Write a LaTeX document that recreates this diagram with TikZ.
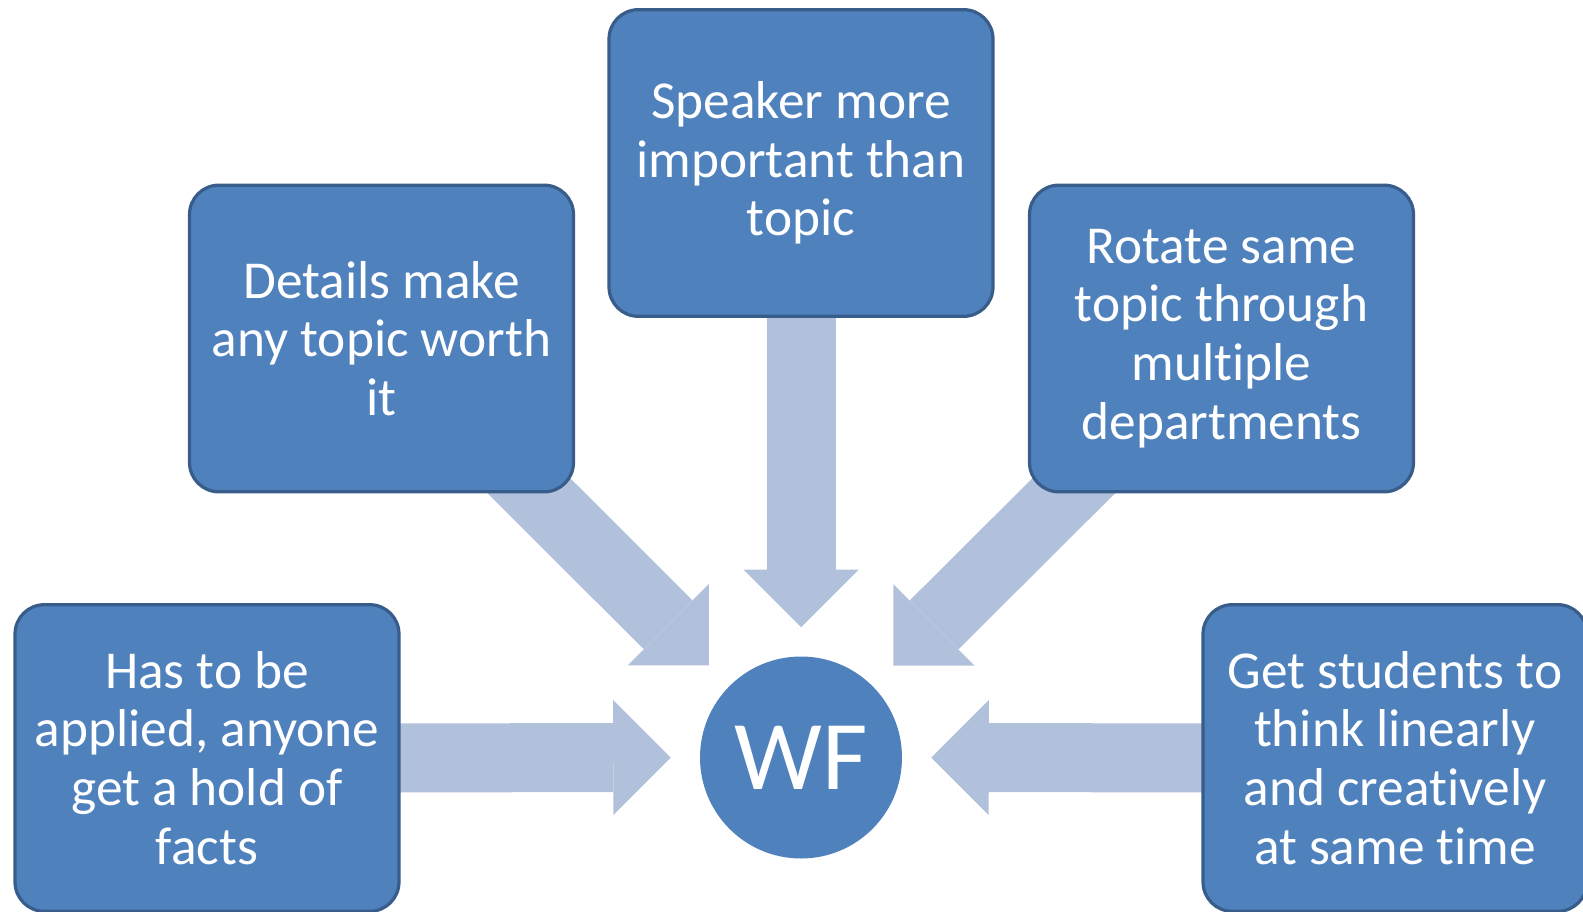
\documentclass[tikz,border=0pt]{standalone}
\usepackage{fontspec}
\setmainfont{Carlito}[RawFeature={-liga;-clig;-calt}]
\usetikzlibrary{arrows.meta,backgrounds}
\definecolor{boxfill}{HTML}{4F81BD}
\definecolor{boxline}{HTML}{385D8A}
\definecolor{arrowc}{HTML}{B2C1DB}
\begin{document}
\begin{tikzpicture}[x=0.75pt,y=-0.75pt,
  box/.style={draw=boxline, line width=2.4pt, fill=boxfill, rounded corners=22pt,
    minimum width=288pt, minimum height=230pt, align=center, text=white,
    font=\fontsize{40}{44}\selectfont, inner sep=0pt},
  hub/.style={circle, fill=boxfill, minimum size=151.5pt, inner sep=0pt, text=white,
    font=\fontsize{74}{80}\selectfont},
  bigarrow/.style={draw=arrowc, line width=51.75pt,
    -{Triangle[length=43.125pt 0 0, width=86.25pt 0 0, line width=0pt]},
    shorten >=21.75pt}]
\useasboundingbox (0,0) rectangle (1583,912);
\node[hub] (wf) at (801,757.5) {WF};
\node[box] (tl) at (381.5,338.5) {Details make\\any topic worth\\it};
\node[box] (top) at (801,163) {Speaker more\\important than\\topic};
\node[box] (tr) at (1221.5,338.5) {Rotate same\\topic through\\mul\kern0pt tiple\\departments};
\node[box] (bl) at (207,758) {Has to be\\applied, anyone\\get a hold of\\facts};
\node[box] (br) at (1395,758) {Get students to\\think linearly\\and crea\kern0pt tively\\at same \kern0pt time};
\begin{scope}[on background layer]
  \draw[bigarrow] (tl.center) -- (wf);
  \draw[bigarrow] (top.center) -- (wf);
  \draw[bigarrow] (tr.center) -- (wf);
  \draw[bigarrow] (bl.center) -- (wf);
  \draw[bigarrow] (br.center) -- (wf);
\end{scope}
\end{tikzpicture}
\end{document}
